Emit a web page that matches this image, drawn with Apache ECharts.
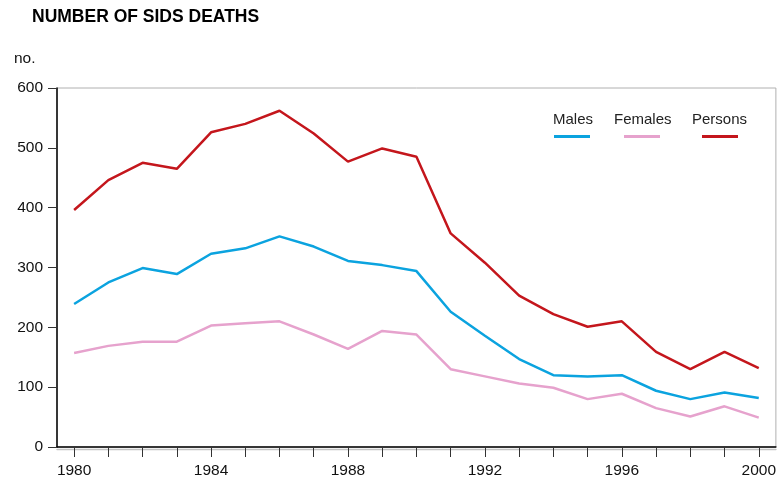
<!DOCTYPE html>
<html>
<head>
<meta charset="utf-8">
<script src="https://cdn.jsdelivr.net/npm/echarts@6/dist/echarts.min.js"></script>
<style>html,body{margin:0;padding:0;background:#fff}#c{width:779px;height:482px}</style>
</head>
<body>
<div id="c"></div>
<script>
const years = ['1980','1981','1982','1983','1984','1985','1986','1987','1988','1989','1990','1991','1992','1993','1994','1995','1996','1997','1998','1999','2000'];
const males   = [239, 275, 299, 289, 323, 332, 352, 335, 311, 304, 294, 226, 186, 147, 120, 118, 120, 94, 80, 91, 82];
const females = [157, 169, 176, 176, 203, 207, 210, 188, 164, 194, 188, 130, 118, 106, 99, 80, 89, 65, 51, 68, 49];
const persons = [396, 446, 475, 465, 526, 540, 562, 524, 477, 499, 485, 357, 308, 253, 222, 201, 210, 159, 130, 159, 132];
const yTicks = { min: 0, max: 600, step: 100 };

const FONT = '"Liberation Sans", Arial, sans-serif';
const colors = { Males: '#0ba3df', Females: '#e6a2cd', Persons: '#c4161c' };

const chart = echarts.init(document.getElementById('c'), null, { renderer: 'canvas' });

function iconLegend(name, left) {
  return {
    data: [{ name: name, icon: 'rect' }],
    left: left, top: 135, itemWidth: 36, itemHeight: 3, padding: 0,
    formatter: () => '', selectedMode: false,
    textStyle: { fontSize: 1 }
  };
}
function textLegend(name, left) {
  return {
    data: [{ name: name, icon: 'none' }],
    left: left, top: 112, itemWidth: 0, itemHeight: 0, itemGap: 0, padding: 0,
    selectedMode: false,
    textStyle: { fontFamily: FONT, fontSize: 15, color: '#222', padding: [0,0,0,-5] }
  };
}

chart.setOption({
  animation: false,
  title: [
    { text: 'NUMBER OF SIDS DEATHS', left: 32, top: 8, padding: 0,
      textStyle: { fontFamily: FONT, fontSize: 17.5, fontWeight: 900, color: '#000' } },
    { text: 'no.', left: 14, top: 51, padding: 0,
      textStyle: { fontFamily: FONT, fontSize: 15.5, fontWeight: 'normal', color: '#111' } }
  ],
  legend: [
    textLegend('Males', 553), textLegend('Females', 614), textLegend('Persons', 692),
    iconLegend('Males', 554), iconLegend('Females', 624), iconLegend('Persons', 702)
  ],
  grid: { left: 57, right: 3, top: 88, bottom: 35, show: true, borderColor: '#b0b0b0', borderWidth: 1, containLabel: false },
  xAxis: {
    type: 'category', data: years, boundaryGap: true,
    axisLine: { lineStyle: { color: '#000', width: 1.5, shadowColor: '#c4c4c4', shadowOffsetY: 2.5, shadowBlur: 0 } },
    axisTick: { show: true, alignWithLabel: true, interval: 0, length: 10, lineStyle: { color: '#333' } },
    axisLabel: { interval: 3, fontFamily: FONT, fontSize: 15.5, color: '#111', margin: 16 },
    splitLine: { show: false }
  },
  yAxis: {
    type: 'value', min: yTicks.min, max: yTicks.max, interval: yTicks.step,
    axisLine: { show: true, lineStyle: { color: '#000', width: 1.5 } },
    axisTick: { show: true, length: 9, lineStyle: { color: '#333' } },
    axisLabel: { fontFamily: FONT, fontSize: 15.5, color: '#111', margin: 14, padding: [6,0,0,0] },
    splitLine: { show: false }
  },
  series: [
    { name: 'Males', type: 'line', data: males, symbol: 'none', lineStyle: { color: colors.Males, width: 2.5 }, itemStyle: { color: colors.Males } },
    { name: 'Females', type: 'line', data: females, symbol: 'none', lineStyle: { color: colors.Females, width: 2.5 }, itemStyle: { color: colors.Females } },
    { name: 'Persons', type: 'line', data: persons, symbol: 'none', lineStyle: { color: colors.Persons, width: 2.5 }, itemStyle: { color: colors.Persons } }
  ]
});
</script>
</body>
</html>
